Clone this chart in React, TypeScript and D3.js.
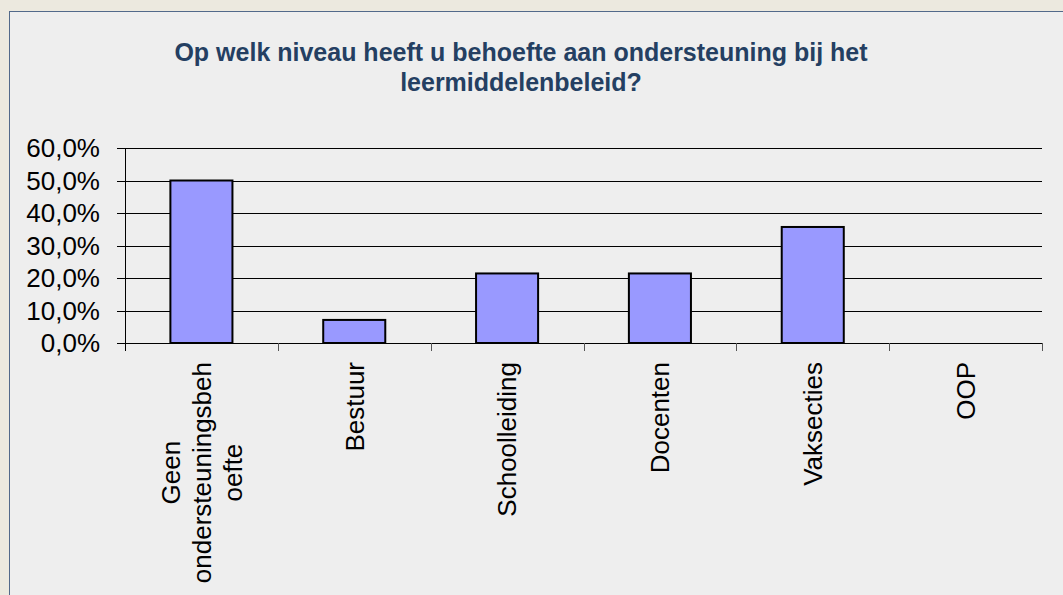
import { useEffect, useRef } from "react";
import * as d3 from "d3";

const categories = [
  "Geen\nondersteuningsbeh\noefte",
  "Bestuur",
  "Schoolleiding",
  "Docenten",
  "Vaksecties",
  "OOP",
];
const values = [0.5, 0.071, 0.214, 0.214, 0.357, 0];
const yTicks = [0, 0.1, 0.2, 0.3, 0.4, 0.5, 0.6];
const titleLines = [
  "Op welk niveau heeft u behoefte aan ondersteuning bij het",
  "leermiddelenbeleid?",
];

const W = 1063;
const H = 595;
const FONT = "'Liberation Sans', Arial, sans-serif";

function BarChart() {
  const svgRef = useRef<SVGSVGElement | null>(null);

  useEffect(() => {
    const svgEl = svgRef.current;
    if (!svgEl) return;
    const svg = d3.select(svgEl);
    svg.selectAll("*").remove();

    // page + panel
    svg.append("rect").attr("width", W).attr("height", H).attr("fill", "#ece9df");
    svg
      .append("rect")
      .attr("x", 9.5)
      .attr("y", 11.5)
      .attr("width", W + 10)
      .attr("height", H + 10)
      .attr("fill", "#eeeeee")
      .attr("stroke", "#52698a")
      .attr("stroke-width", 1);

    const title = svg
      .append("text")
      .attr("text-anchor", "middle")
      .attr("fill", "#243f62")
      .attr("font-family", FONT)
      .attr("font-weight", "bold")
      .attr("font-size", 25);
    titleLines.forEach((line, i) => {
      title.append("tspan").attr("x", 521).attr("y", 61 + i * 30).text(line);
    });

    const left = 125;
    const right = 1042;
    const top = 148;
    const bottom = 343;

    const x = d3.scaleBand<number>().domain(d3.range(categories.length)).range([left, right]);
    const y = d3.scaleLinear().domain([0, 0.6]).range([bottom, top]);
    const fmt = (v: number) => (v * 100).toFixed(1).replace(".", ",") + "%";

    const g = svg.append("g").attr("shape-rendering", "crispEdges");

    // gridlines + y ticks
    g.selectAll(".grid")
      .data(yTicks)
      .enter()
      .append("line")
      .attr("x1", left - 8)
      .attr("x2", right)
      .attr("y1", (d) => Math.round(y(d)) + 0.5)
      .attr("y2", (d) => Math.round(y(d)) + 0.5)
      .attr("stroke", "#000");

    svg
      .selectAll(".ylab")
      .data(yTicks)
      .enter()
      .append("text")
      .attr("x", 100)
      .attr("y", (d) => y(d) + 9)
      .attr("text-anchor", "end")
      .attr("font-family", FONT)
      .attr("font-size", 26)
      .attr("fill", "#000")
      .text(fmt);

    // y axis
    g.append("line")
      .attr("x1", left + 0.5)
      .attr("x2", left + 0.5)
      .attr("y1", top)
      .attr("y2", bottom + 8)
      .attr("stroke", "#000");

    // x ticks at category boundaries
    const bounds = d3.range(1, categories.length + 1).map((i) => left + i * x.step());
    g.selectAll(".xtick")
      .data(bounds)
      .enter()
      .append("line")
      .attr("x1", (d) => Math.round(d) + 0.5)
      .attr("x2", (d) => Math.round(d) + 0.5)
      .attr("y1", bottom)
      .attr("y2", bottom + 8)
      .attr("stroke", "#555");

    // bars
    const barW = x.step() * 0.406;
    svg
      .selectAll(".bar")
      .data(values.map((v, i) => ({ v, i })).filter((d) => d.v > 0))
      .enter()
      .append("rect")
      .attr("x", (d) => x(d.i)! + x.bandwidth() / 2 - barW / 2)
      .attr("y", (d) => y(d.v))
      .attr("width", barW)
      .attr("height", (d) => bottom - y(d.v))
      .attr("fill", "#9999ff")
      .attr("stroke", "#000")
      .attr("stroke-width", 2);

    // x labels, rotated
    categories.forEach((cat, i) => {
      const lines = cat.split("\n");
      const cx = x(i)! + x.bandwidth() / 2;
      const lg = svg.append("g").attr("transform", `translate(${cx},362) rotate(-90)`);
      const texts = lines.map((line, j) =>
        lg
          .append("text")
          .attr("y", (j - (lines.length - 1) / 2) * 31)
          .attr("dy", "0.36em")
          .attr("text-anchor", "middle")
          .attr("font-family", FONT)
          .attr("font-size", 26)
          .attr("fill", "#000")
          .text(line)
      );
      const maxW = d3.max(texts, (t) => (t.node() as SVGTextElement).getComputedTextLength()) || 0;
      texts.forEach((t) => t.attr("x", -maxW / 2));
    });
  }, []);

  return <svg ref={svgRef} width={W} height={H} style={{ position: "absolute", left: 0, top: 0 }} />;
}

export default function App() {
  return <BarChart />;
}
